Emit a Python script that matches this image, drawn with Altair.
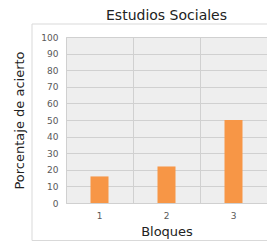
import altair as alt
import pandas as pd

bloques = ["1", "2", "3"]
porcentaje = [16, 22, 50]

df = pd.DataFrame({"Bloque": bloques, "Porcentaje": porcentaje})

W, H = 201, 166

frame = alt.Chart(pd.DataFrame({"a": [0]})).mark_rect(
    fill=None, stroke="#d9d9d9", strokeWidth=1
).encode(
    x=alt.value(-34), x2=alt.value(230), y=alt.value(-13), y2=alt.value(H + 37.5)
)

bars = alt.Chart(df).mark_bar(size=18, color="#F79646").encode(
    x=alt.X("Bloque:N", title="Bloques", sort=bloques,
            scale=alt.Scale(paddingInner=0, paddingOuter=0),
            axis=alt.Axis(labelAngle=0, grid=True, ticks=False, domain=False,
                          bandPosition=0,
                          labelPadding=8, titlePadding=5)),
    y=alt.Y("Porcentaje:Q", title="Porcentaje de acierto",
            scale=alt.Scale(domain=[0, 100]),
            axis=alt.Axis(values=list(range(0, 101, 10)), ticks=False, domain=False,
                          labelPadding=8, titlePadding=14)),
)

chart = alt.layer(frame, bars).properties(
    width=W, height=H,
    title=alt.Title("Estudios Sociales", fontSize=14, font="DejaVu Sans",
                    fontWeight="normal", color="#222222", offset=1),
    autosize=alt.AutoSizeParams(type="none"),
    padding={"left": 58, "top": 29, "right": 0, "bottom": 38},
).configure_view(
    fill="#eeeeee", stroke="#d0d0d0", strokeWidth=1
).configure_axis(
    gridColor="#d0d0d0", gridWidth=1,
    labelFont="DejaVu Sans", labelFontSize=9, labelColor="#595959",
    titleFont="DejaVu Sans", titleFontSize=13, titleFontWeight="normal",
    titleColor="#222222",
)

chart.save("out.html", embed_options={"renderer": "svg", "actions": False})
